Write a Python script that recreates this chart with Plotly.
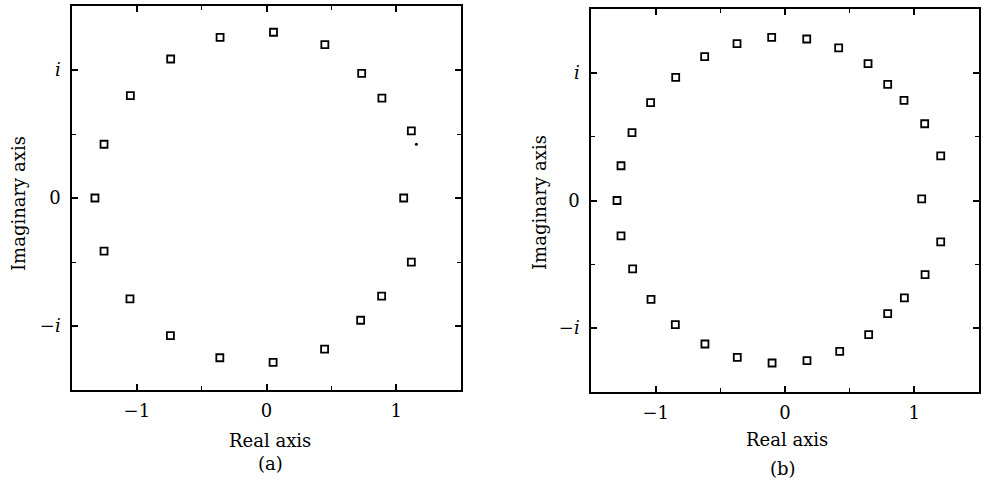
import plotly.graph_objects as go

# Panel (a) roots
a_re = [-1.323, -1.253, -1.050, -0.739, -0.358, 0.054, 0.450, 0.734, 0.890, 1.117, 1.058,
        1.117, 0.888, 0.726, 0.448, 0.051, -0.360, -0.741, -1.053, -1.253]
a_im = [0.000, 0.420, 0.800, 1.086, 1.255, 1.295, 1.198, 0.973, 0.780, 0.525, 0.000,
        -0.501, -0.767, -0.955, -1.180, -1.284, -1.248, -1.075, -0.788, -0.415]
a_dot_re = [1.156]
a_dot_im = [0.420]

# Panel (b) roots
b_re = [-1.299, -1.268, -1.183, -1.039, -0.845, -0.621, -0.371, -0.103, 0.168, 0.415,
        0.642, 0.794, 0.920, 1.080, 1.204, 1.057, 1.204, 1.083, 0.923, 0.794,
        0.647, 0.423, 0.170, -0.100, -0.369, -0.619, -0.848, -1.036, -1.178, -1.268]
b_im = [0.000, 0.272, 0.531, 0.766, 0.965, 1.127, 1.229, 1.278, 1.265, 1.195,
        1.072, 0.910, 0.784, 0.601, 0.350, 0.013, -0.324, -0.580, -0.763, -0.886,
        -1.051, -1.182, -1.255, -1.273, -1.229, -1.124, -0.973, -0.774, -0.536, -0.277]

x_tickvals = [-1, 0, 1]
x_ticktext = ["\u22121", "0", "1"]
y_tickvals = [-1, 0, 1]
y_ticktext = ["\u2212<i>i</i>", "0", "<i>i</i>"]
minor_vals = [-0.5, 0.5]

FONT = "DejaVu Serif"
marker = dict(symbol="square-open", size=7, color="black", line=dict(width=1.8, color="black"))

fig = go.Figure()
fig.add_trace(go.Scatter(x=a_re, y=a_im, mode="markers", marker=marker, xaxis="x", yaxis="y"))
fig.add_trace(go.Scatter(x=a_dot_re, y=a_dot_im, mode="markers",
                         marker=dict(symbol="circle", size=3, color="black"), xaxis="x", yaxis="y"))
fig.add_trace(go.Scatter(x=b_re, y=b_im, mode="markers", marker=marker, xaxis="x2", yaxis="y2"))

W, H = 981, 484

def px(x):
    return x / W

def py(y):
    return 1 - y / H

def xax(domain, anchor):
    return dict(domain=domain, anchor=anchor, range=[-1.5, 1.5], showgrid=False, zeroline=False,
                showline=True, linecolor="black", linewidth=1.5, mirror="ticks",
                ticks="inside", ticklen=6, tickwidth=1.5, tickcolor="black",
                tickvals=x_tickvals, ticktext=x_ticktext, ticklabelstandoff=4,
                minor=dict(tickvals=minor_vals, ticks="inside", ticklen=4, tickwidth=1.2, tickcolor="black"),
                tickfont=dict(family=FONT, size=18, color="black"))

def yax(domain, anchor):
    return dict(domain=domain, anchor=anchor, range=[-1.5, 1.5], showgrid=False, zeroline=False,
                showline=True, linecolor="black", linewidth=1.5, mirror="ticks",
                ticks="inside", ticklen=6, tickwidth=1.5, tickcolor="black",
                tickvals=y_tickvals, ticktext=y_ticktext, ticklabelstandoff=6,
                minor=dict(tickvals=minor_vals, ticks="inside", ticklen=4, tickwidth=1.2, tickcolor="black"),
                tickfont=dict(family=FONT, size=18, color="black"))

fig.update_layout(
    width=W, height=H, margin=dict(l=0, r=0, t=0, b=0),
    paper_bgcolor="white", plot_bgcolor="white", showlegend=False,
    xaxis=xax([px(72), px(461)], "y"),
    yaxis=yax([py(390), py(6)], "x"),
    xaxis2=xax([px(591), px(979)], "y2"),
    yaxis2=yax([py(392), py(9)], "x2"),
)

def ann(text, x, y, angle=0):
    fig.add_annotation(text=text, x=px(x), y=py(y), xref="paper", yref="paper",
                       showarrow=False, textangle=angle, xanchor="center", yanchor="middle",
                       font=dict(family=FONT, size=18, color="black"))

ann("Real axis", 270, 440)
ann("(a)", 270, 463)
ann("Imaginary axis", 19, 204, -90)
ann("Real axis", 787, 439)
ann("(b)", 783, 468)
ann("Imaginary axis", 539, 203, -90)

fig.write_html("out.html", config={"displayModeBar": False},
               post_script="document.body.style.margin='0px';document.body.style.overflow='hidden';")
